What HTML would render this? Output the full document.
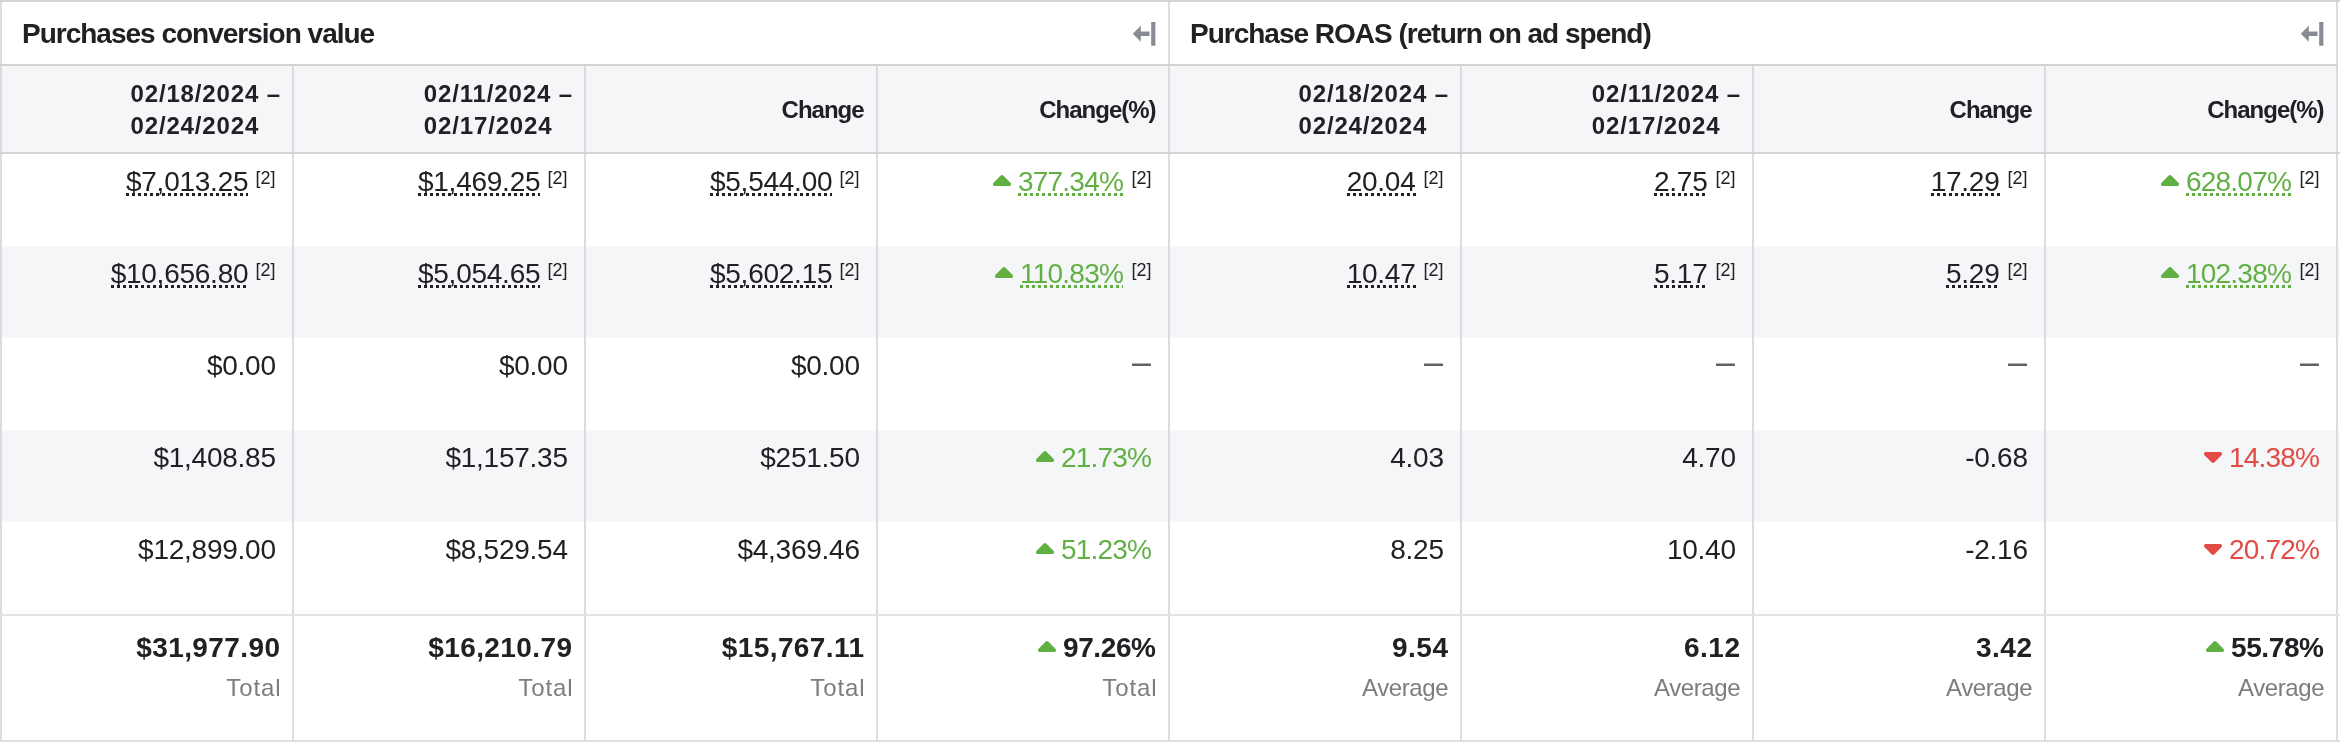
<!DOCTYPE html>
<html><head><meta charset="utf-8"><style>
html,body{margin:0;padding:0;background:#fff;}
body{width:2340px;height:742px;position:relative;overflow:hidden;font-family:"Liberation Sans",sans-serif;color:#202124;}
#w{position:absolute;left:0;top:0;width:2340px;height:742px;will-change:transform;}
.a{position:absolute;}
.title{position:absolute;font-weight:bold;font-size:28px;line-height:64px;white-space:nowrap;letter-spacing:-1.0px;}
.hd{position:absolute;font-weight:bold;font-size:24px;line-height:32px;text-align:right;white-space:nowrap;}
.hd span{display:inline-block;text-align:left;}
.cell{position:absolute;font-size:28px;line-height:32px;text-align:right;white-space:nowrap;}
.u{background-image:linear-gradient(to right,currentColor 50%,transparent 50%);background-size:6px 3px;background-repeat:repeat-x;background-position:0 calc(100% - 1px);}
.sup{font-size:18px;color:#202124;letter-spacing:0;line-height:0;}
.tri{display:inline-block;line-height:0;}
.tot{position:absolute;font-size:28px;font-weight:bold;text-align:right;white-space:nowrap;line-height:32px;}
.lbl{position:absolute;font-size:24px;color:#7d7d7d;text-align:right;white-space:nowrap;line-height:32px;}
</style></head><body><div id="w">

<div class="a" style="left:0;top:66px;width:2336px;height:86px;background:#f5f6f8"></div>
<div class="a" style="left:0;top:246px;width:2340px;height:92px;background:#f5f6f8"></div>
<div class="a" style="left:0;top:430px;width:2340px;height:92px;background:#f5f6f8"></div>
<div class="a" style="left:0px;top:2px;width:2px;height:738px;background:#dbdcdf"></div>
<div class="a" style="left:292px;top:66px;width:2px;height:674px;background:#dbdcdf"></div>
<div class="a" style="left:584px;top:66px;width:2px;height:674px;background:#dbdcdf"></div>
<div class="a" style="left:876px;top:66px;width:2px;height:674px;background:#dbdcdf"></div>
<div class="a" style="left:1168px;top:2px;width:2px;height:738px;background:#dbdcdf"></div>
<div class="a" style="left:1460px;top:66px;width:2px;height:674px;background:#dbdcdf"></div>
<div class="a" style="left:1752px;top:66px;width:2px;height:674px;background:#dbdcdf"></div>
<div class="a" style="left:2044px;top:66px;width:2px;height:674px;background:#dbdcdf"></div>
<div class="a" style="left:2336px;top:2px;width:2px;height:738px;background:#dbdcdf"></div>
<div class="a" style="left:0;top:0;width:2340px;height:2px;background:#d3d3d3"></div>
<div class="a" style="left:0;top:64px;width:2338px;height:2px;background:#d3d3d3"></div>
<div class="a" style="left:0;top:152px;width:2340px;height:2px;background:#d3d3d3"></div>
<div class="a" style="left:0;top:614px;width:2340px;height:2px;background:#e3e3e3"></div>
<div class="a" style="left:0;top:740px;width:2340px;height:2px;background:#e0e0e0"></div>
<div class="title" style="left:22px;top:2px">Purchases conversion value</div>
<div class="title" style="left:1190px;top:2px">Purchase ROAS (return on ad spend)</div>
<svg class="a" style="left:1132px;top:22px" width="24" height="24" viewBox="0 0 24 24"><path d="M0.8 11.7 L8.8 3.7 L8.8 9.4 L17.5 9.4 L17.5 13.9 L8.8 13.9 L8.8 19.7 Z M19.2 0.1 H23.4 V23.7 H19.2 Z" fill="#878b93"/></svg>
<svg class="a" style="left:2300px;top:22px" width="24" height="24" viewBox="0 0 24 24"><path d="M0.8 11.7 L8.8 3.7 L8.8 9.4 L17.5 9.4 L17.5 13.9 L8.8 13.9 L8.8 19.7 Z M19.2 0.1 H23.4 V23.7 H19.2 Z" fill="#878b93"/></svg>
<div class="hd" style="right:2060px;top:78px"><span style="letter-spacing:0.85px;margin-right:-0.85px">02/18/2024 –<br>02/24/2024</span></div>
<div class="hd" style="right:1768px;top:78px"><span style="letter-spacing:0.85px;margin-right:-0.85px">02/11/2024 –<br>02/17/2024</span></div>
<div class="hd" style="right:1475.4px;top:94px"><span style="letter-spacing:-1.0px;margin-right:1.0px">Change</span></div>
<div class="hd" style="right:1183.4px;top:94px"><span style="letter-spacing:-1.0px;margin-right:1.0px">Change(%)</span></div>
<div class="hd" style="right:892px;top:78px"><span style="letter-spacing:0.85px;margin-right:-0.85px">02/18/2024 –<br>02/24/2024</span></div>
<div class="hd" style="right:600px;top:78px"><span style="letter-spacing:0.85px;margin-right:-0.85px">02/11/2024 –<br>02/17/2024</span></div>
<div class="hd" style="right:307.4000000000001px;top:94px"><span style="letter-spacing:-1.0px;margin-right:1.0px">Change</span></div>
<div class="hd" style="right:15.400000000000091px;top:94px"><span style="letter-spacing:-1.0px;margin-right:1.0px">Change(%)</span></div>
<div class="cell" style="right:2064.4px;top:166px"><span class="u" style="color:#202124;letter-spacing:-0.25px">$7,013.25</span><span class="sup" style="margin-left:7.3px;vertical-align:7px">[2]</span></div>
<div class="cell" style="right:1772.4px;top:166px"><span class="u" style="color:#202124;letter-spacing:-0.25px">$1,469.25</span><span class="sup" style="margin-left:7.3px;vertical-align:7px">[2]</span></div>
<div class="cell" style="right:1480.4px;top:166px"><span class="u" style="color:#202124;letter-spacing:-0.25px">$5,544.00</span><span class="sup" style="margin-left:7.3px;vertical-align:7px">[2]</span></div>
<div class="cell" style="right:1188.4px;top:166px"><svg class="tri" style="vertical-align:5px;margin-right:7px" width="18" height="11" viewBox="0 0 18 11"><path d="M7.5 0.8 Q9 -0.6 10.5 0.8 L17.4 7.7 Q19 9.6 16.8 11 L1.2 11 Q-1 9.6 0.6 7.7 Z" fill="#62b043"/></svg><span class="u" style="color:#62b043;letter-spacing:-0.77px">377.34%</span><span class="sup" style="margin-left:8.5px;vertical-align:7px">[2]</span></div>
<div class="cell" style="right:896.4000000000001px;top:166px"><span class="u" style="color:#202124;letter-spacing:-0.25px">20.04</span><span class="sup" style="margin-left:8.1px;vertical-align:7px">[2]</span></div>
<div class="cell" style="right:604.4000000000001px;top:166px"><span class="u" style="color:#202124;letter-spacing:-0.25px">2.75</span><span class="sup" style="margin-left:8.1px;vertical-align:7px">[2]</span></div>
<div class="cell" style="right:312.4000000000001px;top:166px"><span class="u" style="color:#202124;letter-spacing:-0.25px">17.29</span><span class="sup" style="margin-left:8.1px;vertical-align:7px">[2]</span></div>
<div class="cell" style="right:20.40000000000009px;top:166px"><svg class="tri" style="vertical-align:5px;margin-right:7px" width="18" height="11" viewBox="0 0 18 11"><path d="M7.5 0.8 Q9 -0.6 10.5 0.8 L17.4 7.7 Q19 9.6 16.8 11 L1.2 11 Q-1 9.6 0.6 7.7 Z" fill="#62b043"/></svg><span class="u" style="color:#62b043;letter-spacing:-0.77px">628.07%</span><span class="sup" style="margin-left:8.5px;vertical-align:7px">[2]</span></div>
<div class="cell" style="right:2064.4px;top:258px"><span class="u" style="color:#202124;letter-spacing:-0.25px">$10,656.80</span><span class="sup" style="margin-left:7.3px;vertical-align:7px">[2]</span></div>
<div class="cell" style="right:1772.4px;top:258px"><span class="u" style="color:#202124;letter-spacing:-0.25px">$5,054.65</span><span class="sup" style="margin-left:7.3px;vertical-align:7px">[2]</span></div>
<div class="cell" style="right:1480.4px;top:258px"><span class="u" style="color:#202124;letter-spacing:-0.25px">$5,602.15</span><span class="sup" style="margin-left:7.3px;vertical-align:7px">[2]</span></div>
<div class="cell" style="right:1188.4px;top:258px"><svg class="tri" style="vertical-align:5px;margin-right:7px" width="18" height="11" viewBox="0 0 18 11"><path d="M7.5 0.8 Q9 -0.6 10.5 0.8 L17.4 7.7 Q19 9.6 16.8 11 L1.2 11 Q-1 9.6 0.6 7.7 Z" fill="#62b043"/></svg><span class="u" style="color:#62b043;letter-spacing:-0.77px">110.83%</span><span class="sup" style="margin-left:8.5px;vertical-align:7px">[2]</span></div>
<div class="cell" style="right:896.4000000000001px;top:258px"><span class="u" style="color:#202124;letter-spacing:-0.25px">10.47</span><span class="sup" style="margin-left:8.1px;vertical-align:7px">[2]</span></div>
<div class="cell" style="right:604.4000000000001px;top:258px"><span class="u" style="color:#202124;letter-spacing:-0.25px">5.17</span><span class="sup" style="margin-left:8.1px;vertical-align:7px">[2]</span></div>
<div class="cell" style="right:312.4000000000001px;top:258px"><span class="u" style="color:#202124;letter-spacing:-0.25px">5.29</span><span class="sup" style="margin-left:8.1px;vertical-align:7px">[2]</span></div>
<div class="cell" style="right:20.40000000000009px;top:258px"><svg class="tri" style="vertical-align:5px;margin-right:7px" width="18" height="11" viewBox="0 0 18 11"><path d="M7.5 0.8 Q9 -0.6 10.5 0.8 L17.4 7.7 Q19 9.6 16.8 11 L1.2 11 Q-1 9.6 0.6 7.7 Z" fill="#62b043"/></svg><span class="u" style="color:#62b043;letter-spacing:-0.77px">102.38%</span><span class="sup" style="margin-left:8.5px;vertical-align:7px">[2]</span></div>
<div class="cell" style="right:2064px;top:350px"><span style="color:#202124;letter-spacing:-0.25px;margin-right:0.25px">$0.00</span></div>
<div class="cell" style="right:1772px;top:350px"><span style="color:#202124;letter-spacing:-0.25px;margin-right:0.25px">$0.00</span></div>
<div class="cell" style="right:1480px;top:350px"><span style="color:#202124;letter-spacing:-0.25px;margin-right:0.25px">$0.00</span></div>
<svg class="a" style="left:1132px;top:362px" width="19" height="6" viewBox="0 0 19 6"><rect x="0" y="1.6" width="19" height="2.5" rx="0.6" fill="#5f6368"/></svg>
<svg class="a" style="left:1424px;top:362px" width="19" height="6" viewBox="0 0 19 6"><rect x="0" y="1.6" width="19" height="2.5" rx="0.6" fill="#5f6368"/></svg>
<svg class="a" style="left:1716px;top:362px" width="19" height="6" viewBox="0 0 19 6"><rect x="0" y="1.6" width="19" height="2.5" rx="0.6" fill="#5f6368"/></svg>
<svg class="a" style="left:2008px;top:362px" width="19" height="6" viewBox="0 0 19 6"><rect x="0" y="1.6" width="19" height="2.5" rx="0.6" fill="#5f6368"/></svg>
<svg class="a" style="left:2300px;top:362px" width="19" height="6" viewBox="0 0 19 6"><rect x="0" y="1.6" width="19" height="2.5" rx="0.6" fill="#5f6368"/></svg>
<div class="cell" style="right:2064px;top:442px"><span style="color:#202124;letter-spacing:-0.25px;margin-right:0.25px">$1,408.85</span></div>
<div class="cell" style="right:1772px;top:442px"><span style="color:#202124;letter-spacing:-0.25px;margin-right:0.25px">$1,157.35</span></div>
<div class="cell" style="right:1480px;top:442px"><span style="color:#202124;letter-spacing:-0.25px;margin-right:0.25px">$251.50</span></div>
<div class="cell" style="right:1188px;top:442px"><svg class="tri" style="vertical-align:5px;margin-right:7px" width="18" height="11" viewBox="0 0 18 11"><path d="M7.5 0.8 Q9 -0.6 10.5 0.8 L17.4 7.7 Q19 9.6 16.8 11 L1.2 11 Q-1 9.6 0.6 7.7 Z" fill="#62b043"/></svg><span style="color:#62b043;letter-spacing:-0.77px;margin-right:0.77px">21.73%</span></div>
<div class="cell" style="right:896px;top:442px"><span style="color:#202124;letter-spacing:-0.25px;margin-right:0.25px">4.03</span></div>
<div class="cell" style="right:604px;top:442px"><span style="color:#202124;letter-spacing:-0.25px;margin-right:0.25px">4.70</span></div>
<div class="cell" style="right:312px;top:442px"><span style="color:#202124;letter-spacing:-0.25px;margin-right:0.25px">-0.68</span></div>
<div class="cell" style="right:20px;top:442px"><svg class="tri" style="vertical-align:4px;margin-right:7px" width="18" height="11" viewBox="0 0 18 11"><path d="M7.5 10.2 Q9 11.6 10.5 10.2 L17.4 3.3 Q19 1.4 16.8 0 L1.2 0 Q-1 1.4 0.6 3.3 Z" fill="#e34b45"/></svg><span style="color:#e34b45;letter-spacing:-0.77px;margin-right:0.77px">14.38%</span></div>
<div class="cell" style="right:2064px;top:534px"><span style="color:#202124;letter-spacing:-0.25px;margin-right:0.25px">$12,899.00</span></div>
<div class="cell" style="right:1772px;top:534px"><span style="color:#202124;letter-spacing:-0.25px;margin-right:0.25px">$8,529.54</span></div>
<div class="cell" style="right:1480px;top:534px"><span style="color:#202124;letter-spacing:-0.25px;margin-right:0.25px">$4,369.46</span></div>
<div class="cell" style="right:1188px;top:534px"><svg class="tri" style="vertical-align:5px;margin-right:7px" width="18" height="11" viewBox="0 0 18 11"><path d="M7.5 0.8 Q9 -0.6 10.5 0.8 L17.4 7.7 Q19 9.6 16.8 11 L1.2 11 Q-1 9.6 0.6 7.7 Z" fill="#62b043"/></svg><span style="color:#62b043;letter-spacing:-0.77px;margin-right:0.77px">51.23%</span></div>
<div class="cell" style="right:896px;top:534px"><span style="color:#202124;letter-spacing:-0.25px;margin-right:0.25px">8.25</span></div>
<div class="cell" style="right:604px;top:534px"><span style="color:#202124;letter-spacing:-0.25px;margin-right:0.25px">10.40</span></div>
<div class="cell" style="right:312px;top:534px"><span style="color:#202124;letter-spacing:-0.25px;margin-right:0.25px">-2.16</span></div>
<div class="cell" style="right:20px;top:534px"><svg class="tri" style="vertical-align:4px;margin-right:7px" width="18" height="11" viewBox="0 0 18 11"><path d="M7.5 10.2 Q9 11.6 10.5 10.2 L17.4 3.3 Q19 1.4 16.8 0 L1.2 0 Q-1 1.4 0.6 3.3 Z" fill="#e34b45"/></svg><span style="color:#e34b45;letter-spacing:-0.77px;margin-right:0.77px">20.72%</span></div>
<div class="tot" style="right:2060px;top:632px"><span style="letter-spacing:0.4px;margin-right:-0.4px">$31,977.90</span></div>
<div class="lbl" style="right:2059.4px;top:672px"><span style="letter-spacing:0.9px;margin-right:-0.9px">Total</span></div>
<div class="tot" style="right:1768px;top:632px"><span style="letter-spacing:0.4px;margin-right:-0.4px">$16,210.79</span></div>
<div class="lbl" style="right:1767.4px;top:672px"><span style="letter-spacing:0.9px;margin-right:-0.9px">Total</span></div>
<div class="tot" style="right:1476px;top:632px"><span style="letter-spacing:0.4px;margin-right:-0.4px">$15,767.11</span></div>
<div class="lbl" style="right:1475.4px;top:672px"><span style="letter-spacing:0.9px;margin-right:-0.9px">Total</span></div>
<div class="tot" style="right:1184px;top:632px"><svg class="tri" style="vertical-align:5px;margin-right:7px" width="18" height="11" viewBox="0 0 18 11"><path d="M7.5 0.8 Q9 -0.6 10.5 0.8 L17.4 7.7 Q19 9.6 16.8 11 L1.2 11 Q-1 9.6 0.6 7.7 Z" fill="#62b043"/></svg><span style="letter-spacing:-0.38px;margin-right:0.38px">97.26%</span></div>
<div class="lbl" style="right:1183.4px;top:672px"><span style="letter-spacing:0.9px;margin-right:-0.9px">Total</span></div>
<div class="tot" style="right:892px;top:632px"><span style="letter-spacing:0.5px;margin-right:-0.5px">9.54</span></div>
<div class="lbl" style="right:891.4000000000001px;top:672px"><span style="letter-spacing:-0.4px;margin-right:0.4px">Average</span></div>
<div class="tot" style="right:600px;top:632px"><span style="letter-spacing:0.5px;margin-right:-0.5px">6.12</span></div>
<div class="lbl" style="right:599.4000000000001px;top:672px"><span style="letter-spacing:-0.4px;margin-right:0.4px">Average</span></div>
<div class="tot" style="right:308px;top:632px"><span style="letter-spacing:0.5px;margin-right:-0.5px">3.42</span></div>
<div class="lbl" style="right:307.4000000000001px;top:672px"><span style="letter-spacing:-0.4px;margin-right:0.4px">Average</span></div>
<div class="tot" style="right:16px;top:632px"><svg class="tri" style="vertical-align:5px;margin-right:7px" width="18" height="11" viewBox="0 0 18 11"><path d="M7.5 0.8 Q9 -0.6 10.5 0.8 L17.4 7.7 Q19 9.6 16.8 11 L1.2 11 Q-1 9.6 0.6 7.7 Z" fill="#62b043"/></svg><span style="letter-spacing:-0.38px;margin-right:0.38px">55.78%</span></div>
<div class="lbl" style="right:15.400000000000091px;top:672px"><span style="letter-spacing:-0.4px;margin-right:0.4px">Average</span></div>
</div></body></html>
